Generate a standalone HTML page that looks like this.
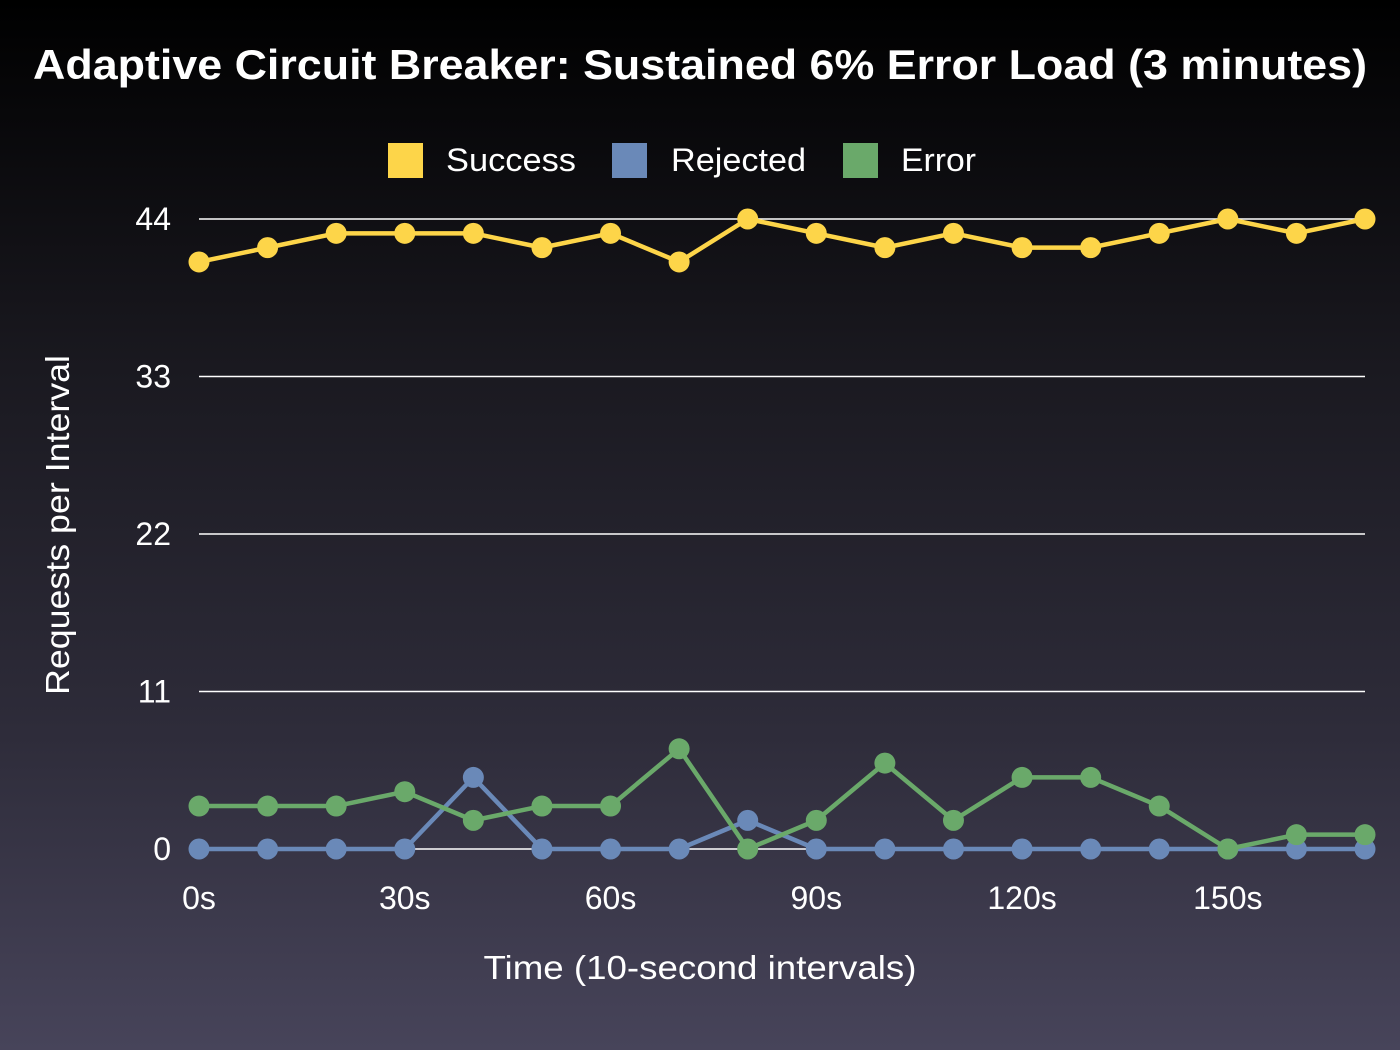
<!DOCTYPE html>
<html><head><meta charset="utf-8"><style>
html,body{margin:0;padding:0;}
body{width:1400px;height:1050px;overflow:hidden;background:linear-gradient(to bottom,#000000 0%,#1a1920 35%,#2e2c3a 70%,#47445a 100%);font-family:"Liberation Sans",sans-serif;}
svg{display:block}
</style></head><body>
<svg id="chart" width="1400" height="1050" xmlns="http://www.w3.org/2000/svg">
<text x="700" y="79" text-anchor="middle" fill="#fff" font-size="42" font-weight="bold" textLength="1334" lengthAdjust="spacingAndGlyphs" font-family="Liberation Sans, sans-serif">Adaptive Circuit Breaker: Sustained 6% Error Load (3 minutes)</text>
<g font-size="32" fill="#fff">
<g><rect x="388" y="143" width="35" height="35" fill="#fdd549"/><text x="446" y="171" fill="#fff" textLength="130" lengthAdjust="spacingAndGlyphs">Success</text></g>
<g><rect x="612" y="143" width="35" height="35" fill="#6a89b8"/><text x="671" y="171" fill="#fff" textLength="135" lengthAdjust="spacingAndGlyphs">Rejected</text></g>
<g><rect x="843" y="143" width="35" height="35" fill="#6aa96a"/><text x="901" y="171" fill="#fff" textLength="75" lengthAdjust="spacingAndGlyphs">Error</text></g>
</g>
<g id="grid"></g>
<g id="yticks"></g>
<g id="xticks"></g>
<text transform="translate(69,525) rotate(-90)" text-anchor="middle" fill="#fff" font-size="33" textLength="340" lengthAdjust="spacingAndGlyphs">Requests per Interval</text>
<text x="700" y="979" text-anchor="middle" fill="#fff" font-size="33" textLength="433" lengthAdjust="spacingAndGlyphs">Time (10-second intervals)</text>
<g id="series"></g>
</svg>
<script>
const categories=[0,10,20,30,40,50,60,70,80,90,100,110,120,130,140,150,160,170];
const successValues=[41,42,43,43,43,42,43,41,44,43,42,43,42,42,43,44,43,44];
const rejectedValues=[0,0,0,0,5,0,0,0,2,0,0,0,0,0,0,0,0,0];
const errorValues=[3,3,3,4,2,3,3,7,0,2,6,2,5,5,3,0,1,1];
const yTicks=[0,11,22,33,44];
const xTickLabels=["0s","30s","60s","90s","120s","150s"];
const xTickValues=[0,30,60,90,120,150];
const NS="http://www.w3.org/2000/svg";
const X0=199,X1=1365,Y0=849,Y1=219;
function xs(v){return X0+(v-0)/(170-0)*(X1-X0);}
function ys(v){return Y0-(v/44)*(Y0-Y1);}
function mk(t,a,p){const e=document.createElementNS(NS,t);for(const k in a)e.setAttribute(k,a[k]);p.appendChild(e);return e;}
const grid=document.getElementById('grid'),yt=document.getElementById('yticks'),xt=document.getElementById('xticks'),ser=document.getElementById('series');
yTicks.forEach(v=>{
 const l=mk('line',{x1:X0,x2:X1,y1:ys(v),y2:ys(v),stroke:'#ffffff','stroke-width':1.5},grid);
 
 
 const t=mk('text',{x:171,y:ys(v)+11,'text-anchor':'end',fill:'#fff','font-size':32},yt);t.textContent=v;
 
 
});
xTickValues.forEach((v,i)=>{
 const t=mk('text',{x:xs(v),y:909,'text-anchor':'middle',fill:'#fff','font-size':32},xt);t.textContent=xTickLabels[i];
 
 
});
function draw(vals,color,name){
 const g=mk('g',{},ser);
 
 
 const pts=vals.map((v,i)=>xs(categories[i])+','+ys(v)).join(' ');
 const pl=mk('polyline',{points:pts,fill:'none',stroke:color,'stroke-width':4.5,'stroke-linejoin':'round'},g);
 
 
 vals.forEach((v,i)=>{
  const c=mk('circle',{cx:xs(categories[i]),cy:ys(v),r:10.5,fill:color},g);
  
  
 });
}
draw(successValues,'#fdd549','success');
draw(rejectedValues,'#6a89b8','rejected');
draw(errorValues,'#6aa96a','error');
</script>
</body></html>
